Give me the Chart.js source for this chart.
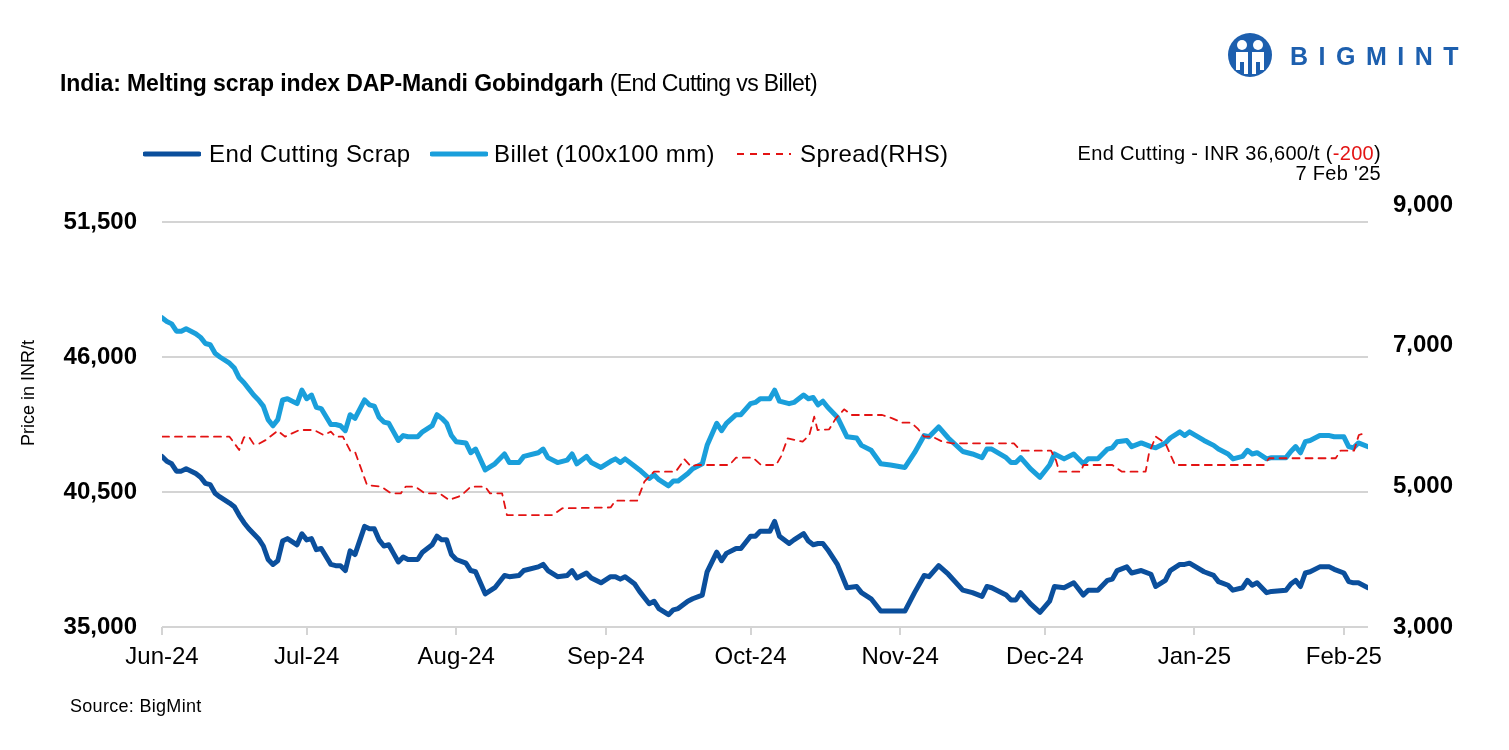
<!DOCTYPE html>
<html>
<head>
<title>India: Melting scrap index DAP-Mandi Gobindgarh</title>
<meta name="viewport" content="width=device-width, initial-scale=1.0">
<script src="https://cdn.jsdelivr.net/npm/chart.js@4.4.1/dist/chart.umd.min.js"></script>
<style>
  body { margin: 0; background: #fff; font-family: "Liberation Sans", Arial, sans-serif; }
  #wrap { position: relative; width: 1509px; height: 750px; overflow: hidden; }
  canvas { position: absolute; left: 0; top: 0; }
  .abs { position: absolute; white-space: nowrap; color: #000; line-height: 1; }
  .title { left: 60px; top: 72px; font-size: 23px; letter-spacing: -0.1px; }
  .title b { font-weight: bold; }
  .title span { letter-spacing: -0.6px; }
  .leg { top: 142px; font-size: 24px; letter-spacing: 0.4px; }
  .note { right: 128px; font-size: 20px; letter-spacing: 0.3px; text-align: right; }
  .ylab { left: 28px; top: 393px; font-size: 18px; transform: translate(-50%, -50%) rotate(-90deg); }
  .source { left: 70px; top: 697px; font-size: 18px; letter-spacing: 0.3px; }
  .logo-text { left: 1290px; top: 44px; font-size: 25px; font-weight: bold; color: #1d5fae; letter-spacing: 10.5px; }
</style>
</head>
<body>
<div id="wrap">
  <canvas id="myChart" width="1509" height="750"></canvas>

  <svg class="abs" style="left:1227px;top:32px" width="46" height="46" viewBox="0 0 46 46">
    <circle cx="23" cy="23" r="22" fill="#1d5fae"/>
    <circle cx="15" cy="13" r="5" fill="#fff"/>
    <circle cx="31" cy="13" r="5" fill="#fff"/>
    <path d="M9 20 h12 v22 h-4 v-12 h-4 v8 h-4z" fill="#fff"/>
    <path d="M25 20 h12 v18 h-4 v-8 h-4 v12 h-4z" fill="#fff"/>
  </svg>
  <div class="abs logo-text">BIGMINT</div>

  <div class="abs title"><b>India: Melting scrap index DAP-Mandi Gobindgarh</b> <span>(End Cutting vs Billet)</span></div>

  <svg class="abs" style="left:143px;top:150px" width="58" height="8"><line x1="2" y1="4" x2="56" y2="4" stroke="#0b4f9c" stroke-width="5" stroke-linecap="round"/></svg>
  <div class="abs leg" style="left:209px">End Cutting Scrap</div>
  <svg class="abs" style="left:430px;top:150px" width="58" height="8"><line x1="2" y1="4" x2="56" y2="4" stroke="#1a9fdb" stroke-width="5" stroke-linecap="round"/></svg>
  <div class="abs leg" style="left:494px">Billet (100x100 mm)</div>
  <svg class="abs" style="left:737px;top:150px" width="56" height="8"><line x1="0" y1="4" x2="54" y2="4" stroke="#e31313" stroke-width="1.8" stroke-dasharray="7,6"/></svg>
  <div class="abs leg" style="left:800px">Spread(RHS)</div>

  <div class="abs note" style="top:143px">End Cutting - INR 36,600/t (<span style="color:#e31313">-200</span>)</div>
  <div class="abs note" style="top:163px">7 Feb '25</div>

  <div class="abs ylab">Price in INR/t</div>
  <div class="abs source">Source: BigMint</div>
</div>

<script>
// x = days counted from 1 Jun 2024
var monthDays = [0, 30, 61, 92, 122, 153, 183, 214, 245];
var monthLabels = ['Jun-24', 'Jul-24', 'Aug-24', 'Sep-24', 'Oct-24', 'Nov-24', 'Dec-24', 'Jan-25', 'Feb-25'];

var leftTicks = [35000, 40500, 46000, 51500];
var rightTicks = [3000, 5000, 7000, 9000];

var days = [0,1,2,3,4,5,7,8,9,10,11,12,14,15,16,17,18,19,20,21,22,23,24,25,26,28,29,30,31,32,33,35,36,37,38,39,40,42,43,44,45,46,47,48,49,50,51,53,54,56,57,58,59,60,61,63,64,65,67,69,71,72,74,75,78,79,80,82,84,85,86,88,89,91,93,94,95,96,98,99,101,102,103,105,106,107,109,110,112,113,115,116,117,119,120,122,123,124,126,127,128,130,131,133,134,135,136,137,138,140,142,144,145,147,149,151,154,156,158,159,161,163,166,168,170,171,172,175,176,177,178,180,182,184,185,187,189,191,192,194,196,197,198,200,201,203,205,206,208,209,211,212,213,216,218,219,221,222,224,225,226,227,229,230,233,234,235,236,237,238,240,242,243,245,246,247,248,250];

var billet = [47600,47450,47350,47050,47050,47150,46950,46800,46550,46500,46150,46000,45750,45550,45150,44950,44700,44450,44250,44000,43450,43200,43450,44250,44300,44100,44650,44300,44450,43950,43900,43250,43250,43200,43000,43650,43500,44250,44050,44000,43550,43350,43300,42950,42600,42800,42750,42750,42950,43200,43650,43500,43300,42800,42550,42500,42100,42250,41400,41650,42050,41700,41700,41950,42100,42250,41900,41700,41800,42050,41650,41950,41700,41500,41750,41850,41700,41850,41550,41400,41050,41200,41000,40750,40950,40950,41250,41450,41650,42400,43300,43000,43300,43650,43650,44100,44150,44300,44300,44650,44200,44100,44150,44450,44300,44350,44050,44200,43950,43550,42750,42700,42400,42200,41650,41600,41500,42100,42800,42750,43150,42700,42150,42050,41900,42250,42250,41900,41700,41700,41900,41450,41100,41600,42050,41850,42050,41650,41850,41850,42250,42300,42550,42600,42350,42500,42350,42300,42500,42700,42950,42800,42950,42600,42400,42250,42050,41850,41950,42200,42050,42100,41850,41900,41900,42150,42350,42100,42550,42600,42800,42800,42750,42750,42350,42300,42500,42350];

var scrap = [41950,41750,41650,41350,41350,41450,41250,41100,40850,40800,40450,40300,40050,39900,39550,39250,39000,38800,38600,38300,37750,37550,37700,38500,38600,38350,38800,38550,38600,38150,38200,37550,37500,37500,37300,38100,37950,39100,39000,39000,38550,38300,38350,38000,37650,37850,37750,37750,38050,38350,38700,38550,38550,37950,37750,37600,37300,37250,36350,36600,37100,37050,37100,37300,37450,37550,37300,37050,37100,37300,37000,37200,37000,36800,37050,37050,36950,37050,36750,36450,35950,36050,35750,35500,35700,35750,36050,36150,36300,37250,38050,37700,38000,38200,38200,38700,38700,38900,38900,39300,38700,38400,38550,38800,38500,38350,38400,38400,38150,37550,36600,36650,36400,36150,35650,35650,35650,36400,37100,37050,37500,37150,36500,36400,36250,36650,36600,36300,36100,36100,36400,35950,35600,36050,36650,36600,36800,36300,36500,36500,36900,36950,37300,37450,37200,37300,37150,36650,36900,37300,37550,37550,37600,37250,37100,36850,36700,36500,36600,36900,36700,36800,36400,36450,36500,36750,36900,36650,37200,37250,37450,37450,37350,37200,36850,36800,36800,36600];

var spreadDays = [0,14,16,17,18,19,20,21.5,24,25.5,28.5,31.5,33.5,35,36,37.5,39,40,42.5,45.5,47.5,49.5,50.5,52.5,54.5,57.5,59.5,61.5,62.5,64,67,68,70.5,71.5,81,83,93,94,98.5,100,102,106.5,108.3,109.7,110.7,117.6,119,122.5,124.2,127.3,128.3,129.7,132.8,134.2,135.2,135.9,138.3,139.7,141.4,143,149.3,151.4,153.5,155.3,156.6,158,159.7,161.8,163.8,176.6,178,184.3,185.3,186,190.5,191,197,199,203.9,204.6,206,208,210,228.4,229.5,243.3,244.3,247.1,248.1,249.5];
var spread = [5706,5706,5517,5697,5706,5602,5602,5659,5791,5706,5801,5801,5730,5777,5706,5706,5507,5493,5019,4995,4900,4900,4995,4995,4900,4900,4806,4853,4900,4995,4995,4900,4900,4592,4592,4688,4700,4796,4796,5066,5208,5208,5384,5280,5303,5303,5407,5407,5303,5303,5422,5683,5635,5730,5990,5801,5811,5967,6095,6014,6014,5967,5905,5905,5825,5706,5706,5635,5612,5612,5507,5507,5374,5208,5208,5303,5303,5208,5208,5470,5706,5612,5303,5303,5399,5399,5507,5507,5730,5760];

function pts(xs, ys) {
    return xs.map(function(x, i) { return {x: x, y: ys[i]}; });
}

var ctx = document.getElementById('myChart').getContext('2d');
var chart = new Chart(ctx, {
    type: 'line',
    data: {
        datasets: [
            {label: 'Spread(RHS)', data: pts(spreadDays, spread), yAxisID: 'y2',
             borderColor: '#e31313', borderWidth: 1.8, borderDash: [7, 6], order: 0},
            {label: 'Billet (100x100 mm)', data: pts(days, billet), yAxisID: 'y',
             borderColor: '#1a9fdb', borderWidth: 5, order: 1},
            {label: 'End Cutting Scrap', data: pts(days, scrap), yAxisID: 'y',
             borderColor: '#0b4f9c', borderWidth: 5, order: 2}
        ]
    },
    options: {
        responsive: false,
        animation: false,
        layout: { padding: { top: 205, left: 0, right: 0, bottom: 0 } },
        elements: {
            point: { radius: 0 },
            line: { tension: 0, borderCapStyle: 'round', borderJoinStyle: 'round', fill: false }
        },
        plugins: { legend: { display: false }, tooltip: { enabled: false } },
        scales: {
            x: {
                type: 'linear', min: 0, max: 250,
                afterBuildTicks: function(scale) { scale.ticks = monthDays.map(function(v) { return {value: v}; }); },
                afterFit: function(scale) { scale.height = 123; },
                ticks: {
                    autoSkip: false, maxRotation: 0, padding: 8, color: '#000',
                    font: { family: 'Liberation Sans', size: 24 },
                    callback: function(v) { return monthLabels[monthDays.indexOf(v)]; }
                },
                grid: { drawOnChartArea: false, drawTicks: true, tickLength: 8, tickColor: '#d4d4d4', lineWidth: 2 },
                border: { display: false }
            },
            y: {
                position: 'left', min: 35000, max: 52193,
                afterBuildTicks: function(scale) { scale.ticks = leftTicks.map(function(v) { return {value: v}; }); },
                afterFit: function(scale) { scale.width = 162; },
                ticks: {
                    padding: 25, color: '#000',
                    font: { family: 'Liberation Sans', size: 24, weight: 'bold' },
                    callback: function(v) { return v.toLocaleString('en-US'); }
                },
                grid: { color: '#d4d4d4', lineWidth: 2, drawTicks: false },
                border: { display: false }
            },
            y2: {
                position: 'right', min: 3000, max: 9000,
                afterBuildTicks: function(scale) { scale.ticks = rightTicks.map(function(v) { return {value: v}; }); },
                afterFit: function(scale) { scale.width = 141; },
                ticks: {
                    padding: 17, color: '#000',
                    font: { family: 'Liberation Sans', size: 24, weight: 'bold' },
                    callback: function(v) { return v.toLocaleString('en-US'); }
                },
                grid: { display: false },
                border: { display: false }
            }
        }
    }
});
</script>
</body>
</html>
